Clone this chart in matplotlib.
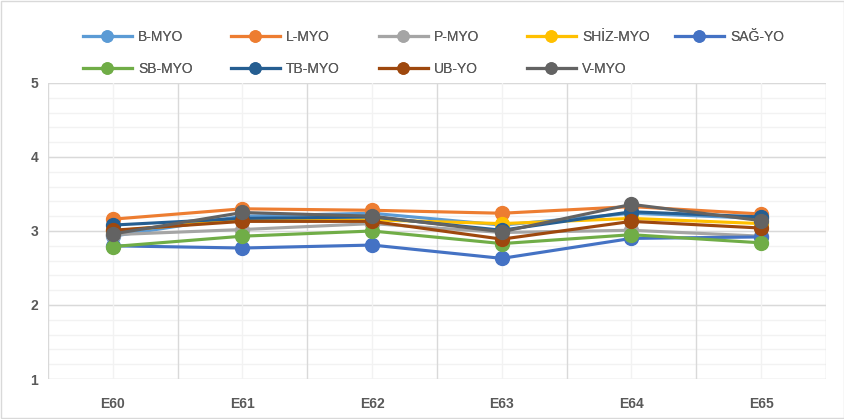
import matplotlib.pyplot as plt
import matplotlib.patches as mpatches

plt.rcParams['font.family'] = ['Liberation Sans Narrow', 'Liberation Sans', 'DejaVu Sans']

categories = ['E60', 'E61', 'E62', 'E63', 'E64', 'E65']

series = ['B-MYO', 'L-MYO', 'P-MYO', 'SHİZ-MYO', 'SAĞ-YO',
          'SB-MYO', 'TB-MYO', 'UB-YO', 'V-MYO']

b_myo = [2.93, 3.20, 3.24, 3.08, 3.24, 3.17]
l_myo = [3.16, 3.30, 3.28, 3.24, 3.33, 3.23]
p_myo = [2.95, 3.02, 3.10, 2.98, 3.01, 2.93]
shiz_myo = [3.00, 3.15, 3.15, 3.10, 3.17, 3.10]
sag_yo = [2.80, 2.77, 2.81, 2.63, 2.90, 2.92]
sb_myo = [2.79, 2.93, 3.00, 2.83, 2.95, 2.84]
tb_myo = [3.08, 3.17, 3.19, 3.01, 3.26, 3.19]
ub_yo = [3.01, 3.13, 3.13, 2.89, 3.13, 3.04]
v_myo = [2.96, 3.25, 3.20, 2.99, 3.36, 3.14]

values = [b_myo, l_myo, p_myo, shiz_myo, sag_yo, sb_myo, tb_myo, ub_yo, v_myo]
colors = ['#5B9BD5', '#ED7D31', '#A5A5A5', '#FFC000', '#4472C4',
          '#70AD47', '#255E91', '#9E480E', '#636363']

fig = plt.figure(figsize=(8.45, 4.19), dpi=100)
ax = fig.add_axes([48/845, 40/419, 778/845, 296/419])

x = list(range(len(categories)))
lines = []
for name, vals, c in zip(series, values, colors):
    ln, = ax.plot(x, vals, color=c, lw=2.25, marker='o', ms=10, label=name)
    lines.append(ln)

ax.set_xlim(-0.5, 5.5)
ax.set_ylim(1, 5)
ax.set_xticks(x)
ax.set_xticklabels(categories)
ax.set_yticks([1, 2, 3, 4, 5])

# grid: minor lines light, major lines a bit darker
for yv in [1 + 0.2*i for i in range(21)]:
    ax.axhline(yv, color='#F2F2F2', lw=1, zorder=0)
for yv in [1, 2, 3, 4, 5]:
    ax.axhline(yv, color='#D9D9D9', lw=1, zorder=0)
for xv in x:
    ax.axvline(xv, color='#F2F2F2', lw=1, zorder=0)
for xv in [i - 0.5 for i in range(7)]:
    ax.axvline(xv, color='#D9D9D9', lw=1, zorder=0)

for s in ax.spines.values():
    s.set_visible(False)
ax.tick_params(which='both', length=0)
ax.tick_params(axis='x', pad=13)
ax.tick_params(axis='y', pad=7)
for lab in ax.get_xticklabels() + ax.get_yticklabels():
    lab.set_fontweight('bold')
    lab.set_color('#595959')
    lab.set_fontsize(10)

# legend: 5 equal-width columns, row-wise order like Excel
for col in range(5):
    idx = [i for i in (col, col + 5) if i < len(series)]
    leg = fig.legend([lines[i] for i in idx], [series[i] for i in idx],
                     loc='upper left',
                     bbox_to_anchor=((83 + 148*col)/845, 1 - 30/419),
                     frameon=False, fontsize=10, handlelength=3.5,
                     handletextpad=0.45, labelspacing=1.3, markerscale=0.8,
                     borderaxespad=0, borderpad=0)
    for t in leg.get_texts():
        t.set_color('#595959')
    fig.add_artist(leg)

fig.patches.append(mpatches.Rectangle((1/845, 1/419), 843/845, 417/419,
                                      transform=fig.transFigure, fill=False,
                                      edgecolor='#D9D9D9', lw=1))

fig.savefig('out.png', dpi=100)
